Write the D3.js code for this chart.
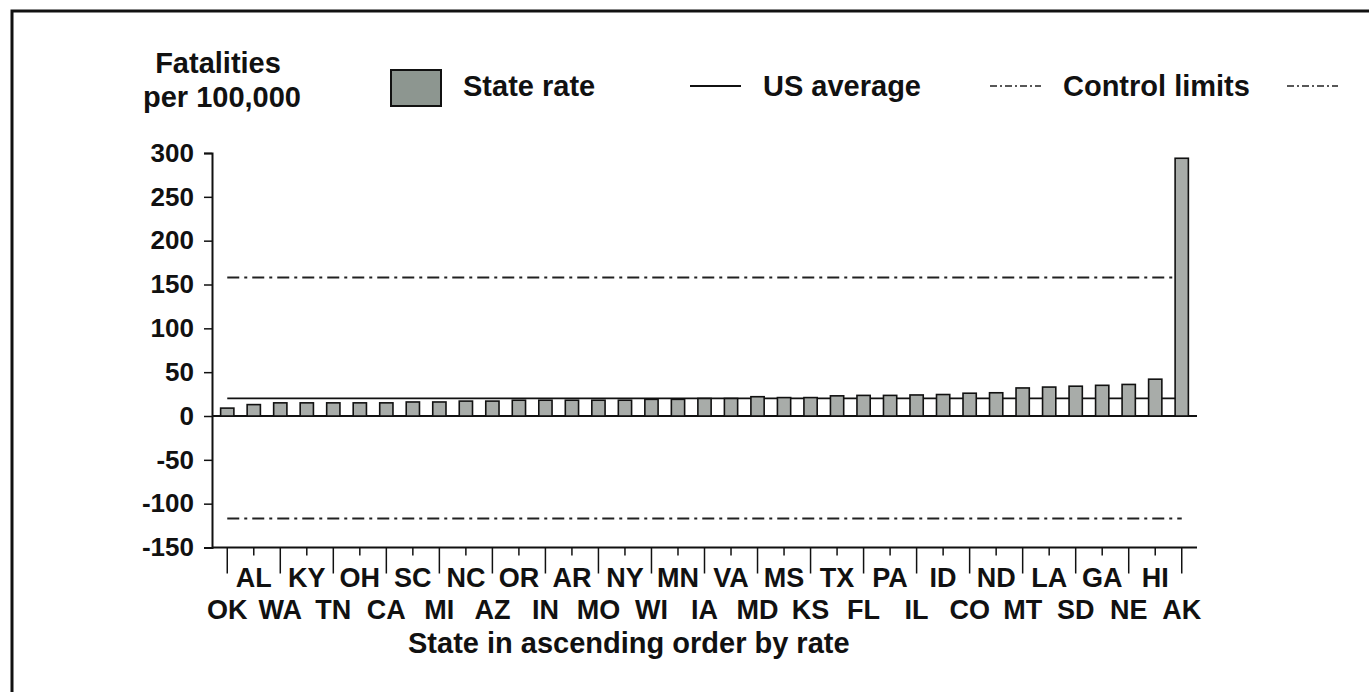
<!DOCTYPE html>
<html>
<head>
<meta charset="utf-8">
<script src="https://cdn.jsdelivr.net/npm/d3@7"></script>
<style>
  body { margin: 0; background: #fff; }
  text { font-family: "Liberation Sans", Arial, sans-serif; font-weight: bold; fill: #111; }
</style>
</head>
<body>
<div id="container"></div>
<script>
const width = 1369;
const height = 692;

// states in ascending order by rate
const states = ['OK', 'AL', 'WA', 'KY', 'TN', 'OH', 'CA', 'SC', 'MI', 'NC', 'AZ', 'OR', 'IN', 'AR', 'MO', 'NY', 'WI', 'MN', 'IA',
                'VA', 'MD', 'MS', 'KS', 'TX', 'FL', 'PA', 'IL', 'ID', 'CO', 'ND', 'MT', 'LA', 'SD', 'GA', 'NE', 'HI', 'AK'];
const rates = [9, 13, 15, 15, 15, 15, 15, 16, 16, 17, 17, 18, 18, 18, 18, 18, 19, 19, 20,
               20, 22, 21, 21, 23, 23.5, 23.5, 24, 24.5, 26, 26.5, 32, 33, 34, 35, 36, 42, 294];
const usAverage = 20;
const controlLimits = [158, -117];
const yTicks = [300, 250, 200, 150, 100, 50, 0, -50, -100, -150];

const svg = d3.select('#container')
    .append('svg')
    .attr('width', width)
    .attr('height', height);

// scanned page frame
svg.append('path')
    .attr('d', 'M12,692 L12,11 L1369,11')
    .attr('fill', 'none')
    .attr('stroke', '#111')
    .attr('stroke-width', 3);

const xScale = d3.scaleBand()
    .domain(states)
    .range([214, 1195])
    .paddingInner(0.5)
    .paddingOuter(0.25);

const yScale = d3.scaleLinear()
    .domain([-150, 300])
    .range([547.5, 153]);

// y axis
const yAxis = d3.axisLeft(yScale)
    .tickValues(yTicks)
    .tickFormat(d => String(d))
    .tickSize(8)
    .tickPadding(10);

const gy = svg.append('g')
    .attr('transform', 'translate(212, 0)')
    .call(yAxis);
gy.select('.domain').attr('stroke', '#111').attr('stroke-width', 2);
gy.selectAll('.tick line').attr('stroke', '#111').attr('stroke-width', 1.5);
gy.selectAll('.tick text')
    .style('font-size', '26px')
    .style('font-family', '"Liberation Sans", Arial, sans-serif')
    .style('font-weight', 'bold')
    .attr('fill', '#111');

// zero line
svg.append('line')
    .attr('x1', 212)
    .attr('x2', 1197)
    .attr('y1', yScale(0))
    .attr('y2', yScale(0))
    .attr('stroke', '#111')
    .attr('stroke-width', 2);

// x axis, staggered labels
const xAxis = d3.axisBottom(xScale).tickSize(0).tickFormat('');
const gx = svg.append('g')
    .attr('transform', 'translate(0, ' + yScale(-150) + ')')
    .call(xAxis);
gx.select('.domain').attr('d', 'M212,0H1197').attr('stroke', '#111').attr('stroke-width', 2);

gx.selectAll('.tick line')
    .attr('y2', (d, i) => i % 2 === 0 ? 26 : 8)
    .attr('stroke', '#111')
    .attr('stroke-width', 1.5);

gx.selectAll('.tick text')
    .text(d => d)
    .attr('y', (d, i) => i % 2 === 0 ? 71 : 39)
    .attr('dy', 0)
    .attr('fill', '#111')
    .style('font-size', '27px')
    .style('font-family', '"Liberation Sans", Arial, sans-serif')
    .style('font-weight', 'bold');

const lineX1 = xScale(states[0]) + xScale.bandwidth() / 2;
const lineX2 = xScale(states[states.length - 1]) + xScale.bandwidth() / 2;

// control limits
svg.selectAll('line.limit')
    .data(controlLimits)
    .enter()
    .append('line')
    .attr('class', 'limit')
    .attr('x1', lineX1)
    .attr('x2', lineX2)
    .attr('y1', d => yScale(d))
    .attr('y2', d => yScale(d))
    .attr('stroke', '#222')
    .attr('stroke-width', 2)
    .attr('stroke-dasharray', '12,5,3,5');

// US average
svg.append('line')
    .attr('x1', lineX1)
    .attr('x2', lineX2)
    .attr('y1', yScale(usAverage))
    .attr('y2', yScale(usAverage))
    .attr('stroke', '#111')
    .attr('stroke-width', 1.8);

// bars
svg.selectAll('rect.bar')
    .data(states)
    .enter()
    .append('rect')
    .attr('class', 'bar')
    .attr('x', d => xScale(d))
    .attr('y', (d, i) => yScale(rates[i]))
    .attr('width', xScale.bandwidth())
    .attr('height', (d, i) => yScale(0) - yScale(rates[i]))
    .attr('fill', '#a8aca9')
    .attr('stroke', '#111')
    .attr('stroke-width', 1.6);

// y axis title
svg.append('text')
    .attr('x', 218)
    .attr('y', 73)
    .attr('text-anchor', 'middle')
    .style('font-size', '29px')
    .text('Fatalities');
svg.append('text')
    .attr('x', 222)
    .attr('y', 107)
    .attr('text-anchor', 'middle')
    .style('font-size', '29px')
    .text('per 100,000');

// x axis title
svg.append('text')
    .attr('x', 408)
    .attr('y', 653)
    .style('font-size', '29px')
    .text('State in ascending order by rate');

// legend
const legend = svg.append('g').attr('id', 'legend');
legend.append('rect')
    .attr('x', 391)
    .attr('y', 70)
    .attr('width', 50)
    .attr('height', 36)
    .attr('fill', '#8d9690')
    .attr('stroke', '#111')
    .attr('stroke-width', 2);
legend.append('text')
    .attr('x', 463)
    .attr('y', 96)
    .style('font-size', '29px')
    .text('State rate');

legend.append('line')
    .attr('x1', 690).attr('x2', 741)
    .attr('y1', 86).attr('y2', 86)
    .attr('stroke', '#111')
    .attr('stroke-width', 1.8);
legend.append('text')
    .attr('x', 763)
    .attr('y', 96)
    .style('font-size', '29px')
    .text('US average');

[[990, 1041], [1287, 1338]].forEach(seg => {
    legend.append('line')
        .attr('x1', seg[0]).attr('x2', seg[1])
        .attr('y1', 86).attr('y2', 86)
        .attr('stroke', '#222')
        .attr('stroke-width', 1.6)
        .attr('stroke-dasharray', '7,3,2,3');
});
legend.append('text')
    .attr('x', 1063)
    .attr('y', 96)
    .style('font-size', '29px')
    .text('Control limits');
</script>
</body>
</html>
